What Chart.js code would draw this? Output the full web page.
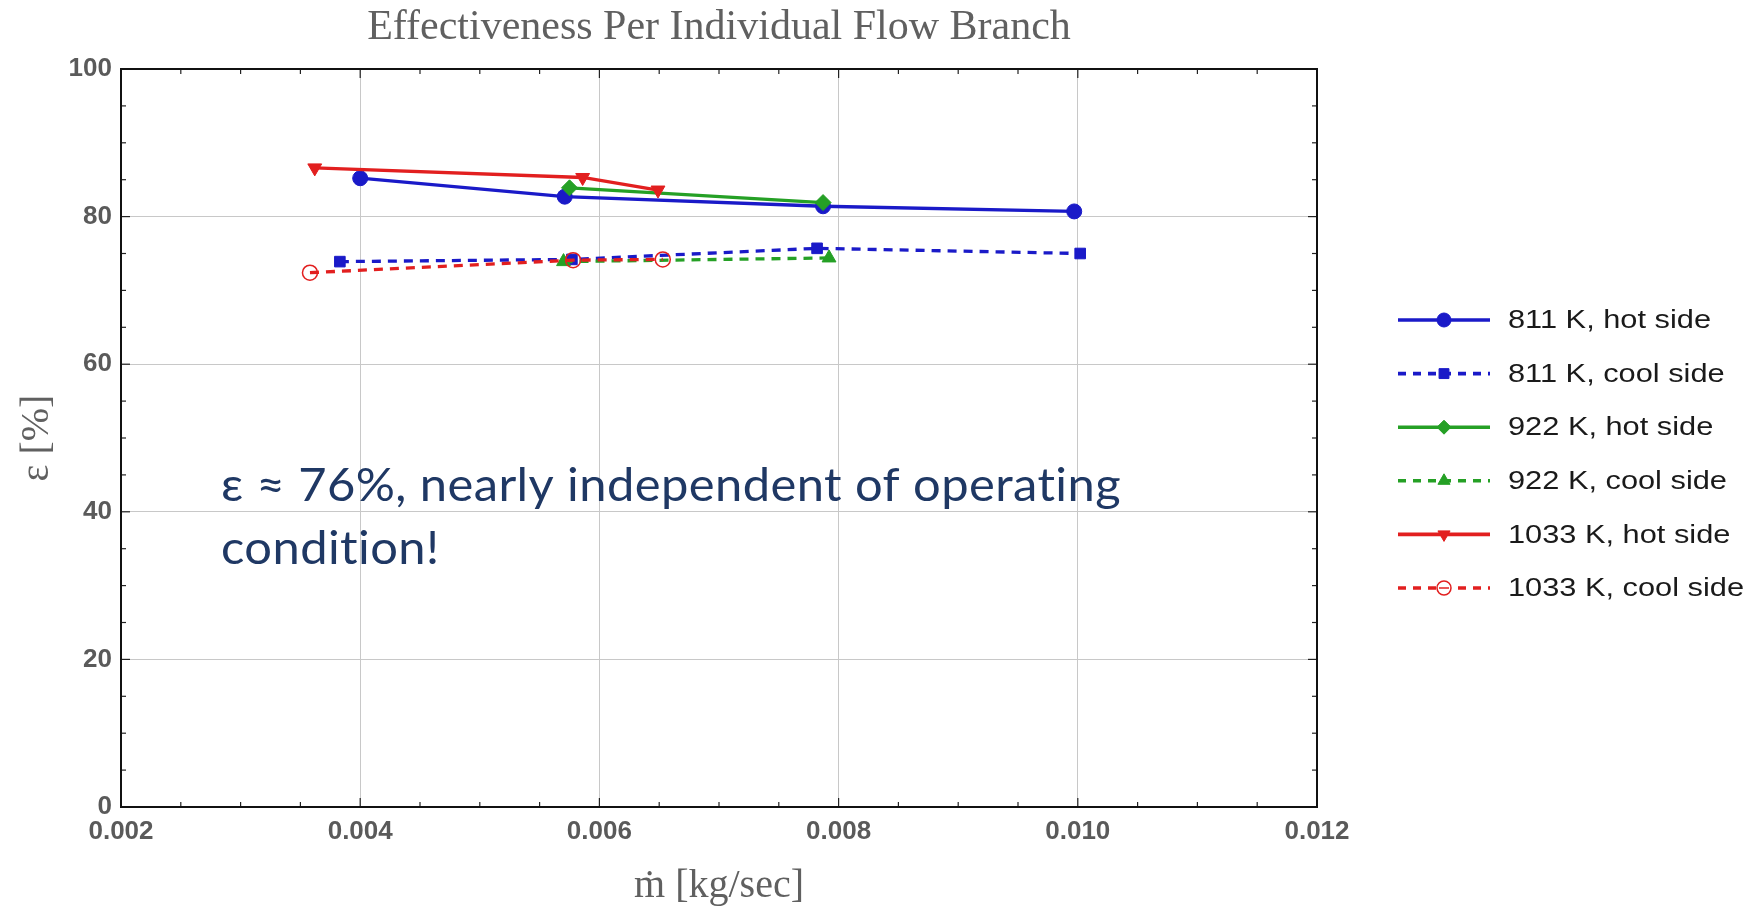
<!DOCTYPE html>
<html><head><meta charset="utf-8">
<script src="https://cdn.jsdelivr.net/npm/chart.js@4/dist/chart.umd.min.js"></script>
<style>html,body{margin:0;padding:0;background:#fff;}canvas{display:block;}</style>
</head><body>
<canvas id="c" width="1758" height="908"></canvas>
<script>
// ---- text ----
const titleText = 'Effectiveness Per Individual Flow Branch';
const xTitle = 'ṁ [kg/sec]';
const yTitle = 'ε [%]';
const noteLines = ['ε ≈ 76%, nearly independent of operating', 'condition!'];

// ---- ticks ----
const xTicks = [0.002, 0.004, 0.006, 0.008, 0.010, 0.012];
const yTicks = [0, 20, 40, 60, 80, 100];

// ---- series labels ----
const seriesLabels = ['811 K, hot side', '811 K, cool side', '922 K, hot side', '922 K, cool side', '1033 K, hot side', '1033 K, cool side'];

// ---- data (mass flow [kg/s], effectiveness [%]) ----
const mdot811Hot  = [0.00400, 0.00571, 0.00787, 0.00997];
const eff811Hot   = [85.2, 82.7, 81.4, 80.7];
const mdot811Cool = [0.00383, 0.00577, 0.00782, 0.01002];
const eff811Cool  = [73.9, 74.2, 75.7, 75.0];
const mdot922Hot  = [0.00575, 0.00787];
const eff922Hot   = [83.9, 81.9];
const mdot922Cool = [0.00570, 0.00792];
const eff922Cool  = [73.9, 74.4];
const mdot1033Hot  = [0.00362, 0.00586, 0.00649];
const eff1033Hot   = [86.6, 85.3, 83.6];
const mdot1033Cool = [0.00358, 0.00578, 0.00653];
const eff1033Cool  = [72.4, 74.1, 74.2];

const BLUE = '#1a1ac8', GREEN = '#25a025', RED = '#e21f1f';

function pts(xs, ys){ return xs.map((x, i) => ({x: x, y: ys[i]})); }
function ds(label, xs, ys, color, dashed, style, extra){
  return Object.assign({
    label: label, data: pts(xs, ys),
    borderColor: color, backgroundColor: color,
    pointBackgroundColor: color, pointBorderColor: color,
    borderWidth: 3.3, borderDash: dashed ? [9, 7] : [],
    pointStyle: style, pointRadius: 7.5, pointBorderWidth: 1,
    showLine: true, tension: 0, fill: false
  }, extra || {});
}

const datasets = [
  ds(seriesLabels[0], mdot811Hot, eff811Hot, BLUE, false, 'circle', {order: 6}),
  ds(seriesLabels[1], mdot811Cool, eff811Cool, BLUE, true, 'rect', {order: 5, pointRadius: 7.5}),
  ds(seriesLabels[2], mdot922Hot, eff922Hot, GREEN, false, 'rectRot', {order: 4, pointRadius: 8}),
  ds(seriesLabels[3], mdot922Cool, eff922Cool, GREEN, true, 'triangle', {order: 3, pointRadius: 8}),
  ds(seriesLabels[4], mdot1033Hot, eff1033Hot, RED, false, 'triangle', {order: 2, pointRadius: 8, pointRotation: 180}),
  ds(seriesLabels[5], mdot1033Cool, eff1033Cool, RED, true, 'circle', {order: 1, pointRadius: 7.5, pointBackgroundColor: 'rgba(0,0,0,0)', pointBorderWidth: 1.5})
];

const framePlugin = {
  id: 'frame',
  beforeDatasetsDraw(chart){
    const {ctx, chartArea: a, scales: {x, y}} = chart;
    ctx.save();
    ctx.strokeStyle = '#222'; ctx.lineWidth = 1.2;
    const ln = (x1, y1, x2, y2) => { ctx.beginPath(); ctx.moveTo(x1, y1); ctx.lineTo(x2, y2); ctx.stroke(); };
    for (let i = 0; i <= 20; i++) {
      const px = x.getPixelForValue(xTicks[0] + i * (xTicks[1] - xTicks[0]) / 4);
      const len = (i % 4 === 0) ? 9 : 5;
      ln(px, a.bottom, px, a.bottom - len); ln(px, a.top, px, a.top + len);
    }
    for (let i = 0; i <= 20; i++) {
      const py = y.getPixelForValue(yTicks[0] + i * (yTicks[1] - yTicks[0]) / 4);
      const len = (i % 4 === 0) ? 9 : 5;
      ln(a.left, py, a.left + len, py); ln(a.right, py, a.right - len, py);
    }
    ctx.strokeStyle = '#111'; ctx.lineWidth = 2;
    ctx.strokeRect(a.left, a.top, a.right - a.left, a.bottom - a.top);
    ctx.restore();
  },
  afterDraw(chart){
    const ctx = chart.ctx;
    // annotation text
    ctx.save();
    ctx.font = '47px Lato';
    try { ctx.letterSpacing = '0.4px'; } catch (e) {}
    ctx.fillStyle = '#1f3864';
    ctx.textBaseline = 'alphabetic';
    const w1 = ctx.measureText(noteLines[0]).width;
    const sx = 900 / w1;
    noteLines.forEach((t, i) => {
      ctx.save();
      ctx.translate(221, 501 + i * 63);
      ctx.scale(sx, 1);
      ctx.fillText(t, 0, 0);
      ctx.restore();
    });
    ctx.restore();

    // legend
    ctx.save();
    ctx.font = '26px "Liberation Sans"';
    const lsx = 203 / ctx.measureText(seriesLabels[0]).width;
    chart.data.datasets.forEach((d, i) => {
      const yy = 320 + i * 53.6;
      ctx.save();
      ctx.strokeStyle = d.borderColor; ctx.lineWidth = 3.6;
      ctx.setLineDash(d.borderDash.length ? [8, 7] : []);
      ctx.beginPath(); ctx.moveTo(1398, yy); ctx.lineTo(1490, yy); ctx.stroke();
      ctx.setLineDash([]);
      ctx.fillStyle = d.pointBackgroundColor; ctx.strokeStyle = d.pointBorderColor;
      ctx.lineWidth = d.pointBorderWidth;
      if (d.pointBackgroundColor === 'rgba(0,0,0,0)') { ctx.fillStyle = '#fff'; }
      Chart.helpers.drawPoint(ctx, {pointStyle: d.pointStyle, rotation: d.pointRotation || 0, radius: 7, borderWidth: d.pointBorderWidth}, 1444, yy);
      if (d.pointBackgroundColor === 'rgba(0,0,0,0)') {
        ctx.lineWidth = 1.5; ctx.beginPath(); ctx.moveTo(1439, yy); ctx.lineTo(1449, yy); ctx.stroke();
      }
      ctx.restore();
      ctx.save();
      ctx.fillStyle = '#1a1a1a'; ctx.textBaseline = 'middle';
      ctx.translate(1508, yy + 1); ctx.scale(lsx, 1);
      ctx.fillText(d.label, 0, 0);
      ctx.restore();
    });
    ctx.restore();
  }
};

new Chart(document.getElementById('c'), {
  type: 'scatter',
  data: {datasets: datasets},
  options: {
    responsive: false, animation: false, devicePixelRatio: 1,
    layout: {padding: {top: 0, left: 0, right: 441, bottom: 0}},
    plugins: {
      legend: {display: false},
      tooltip: {enabled: false},
      title: {
        display: true, text: titleText, fullSize: false,
        color: '#606060', font: {family: 'Liberation Serif', size: 42, weight: 'normal', lineHeight: 1.2},
        padding: {top: 3, bottom: 15.6}
      }
    },
    scales: {
      x: {
        type: 'linear', min: xTicks[0], max: xTicks[xTicks.length - 1],
        afterBuildTicks: s => { s.ticks = xTicks.map(v => ({value: v})); },
        afterFit: s => { s.height = 101; },
        ticks: {callback: v => Number(v).toFixed(3), color: '#5a5a5a', font: {family: 'Liberation Sans', weight: 'bold', size: 26}, padding: 9, maxRotation: 0, autoSkip: false},
        grid: {color: '#c8c8c8', lineWidth: 1, drawTicks: false},
        border: {display: false},
        title: {display: true, text: xTitle, color: '#606060', font: {family: 'Liberation Serif', size: 40, lineHeight: 1}, padding: {top: 0, bottom: 2}}
      },
      y: {
        type: 'linear', min: yTicks[0], max: yTicks[yTicks.length - 1],
        afterBuildTicks: s => { s.ticks = yTicks.map(v => ({value: v})); },
        afterFit: s => { s.width = 121; },
        ticks: {callback: v => String(v), color: '#5a5a5a', font: {family: 'Liberation Sans', weight: 'bold', size: 26}, padding: 9, autoSkip: false},
        grid: {color: '#c8c8c8', lineWidth: 1, drawTicks: false},
        border: {display: false},
        title: {display: true, text: yTitle, color: '#606060', font: {family: 'Liberation Serif', size: 40, lineHeight: 1}, padding: {top: 17, bottom: 0}}
      }
    }
  },
  plugins: [framePlugin]
});
</script>
</body></html>
